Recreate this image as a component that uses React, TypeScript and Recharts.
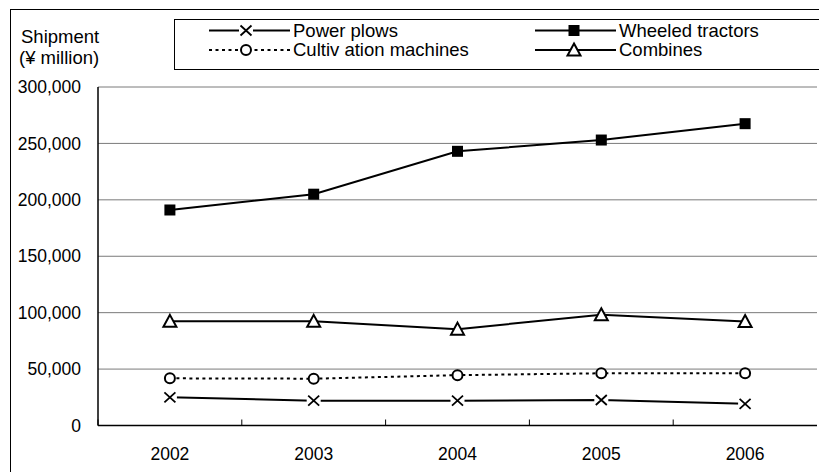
import React from 'react';
import { LineChart, Line, XAxis, YAxis, CartesianGrid, Legend } from 'recharts';

// Shipment value by machine type (¥ million)
const years = ['2002', '2003', '2004', '2005', '2006'];
const powerPlows = [25000, 22000, 22000, 22600, 19200];
const wheeledTractors = [191000, 205000, 243000, 253000, 267500];
const cultivationMachines = [41800, 41500, 44600, 46300, 46300];
const combines = [92300, 92300, 85400, 98100, 92100];
const yTicks = [0, 50000, 100000, 150000, 200000, 250000, 300000];

const FONT = '"Liberation Sans", Arial, sans-serif';
const FS = 17.5;
const LEGEND_FS = 18.5;

const fmt = (v: number) => v.toLocaleString('en-US');

// markers
const XMark = ({ cx, cy }: any) => (
  <g>
    <rect x={cx - 7} y={cy - 6} width={14} height={12} fill="#fff" />
    <path
      d={`M${cx - 5.5},${cy - 5} L${cx + 5.5},${cy + 5} M${cx + 5.5},${cy - 5} L${cx - 5.5},${cy + 5}`}
      stroke="#000"
      strokeWidth={1.8}
      fill="none"
    />
  </g>
);
const SquareMark = ({ cx, cy }: any) => <rect x={cx - 5.5} y={cy - 5.5} width={11} height={11} fill="#000" />;
const CircleMark = ({ cx, cy }: any) => <circle cx={cx} cy={cy} r={5} fill="#fff" stroke="#000" strokeWidth={2} />;
const TriangleMark = ({ cx, cy }: any) => (
  <polygon
    points={`${cx},${cy - 6.5} ${cx + 6.5},${cy + 5.5} ${cx - 6.5},${cy + 5.5}`}
    fill="#fff"
    stroke="#000"
    strokeWidth={2}
  />
);

const dotOf = (Mark: any) => (props: any) => <Mark key={`m-${props.index}`} cx={props.cx} cy={props.cy} />;

const legendItems = [
  { name: 'Power plows', x: 0, y: 0, dash: undefined, Mark: XMark, mx: 71 },
  { name: 'Cultiv ation machines', x: 0, y: 1, dash: '3 3.5', Mark: CircleMark, mx: 71 },
  { name: 'Wheeled tractors', x: 1, y: 0, dash: undefined, Mark: SquareMark, mx: 399 },
  { name: 'Combines', x: 1, y: 1, dash: undefined, Mark: TriangleMark, mx: 399 },
];

const renderLegend = () => (
  <div style={{ width: 700, height: 51, boxSizing: 'border-box', border: '1px solid #000', background: '#fff' }}>
    <svg width={698} height={49} style={{ display: 'block' }}>
      {legendItems.map((it) => {
        const x0 = it.x === 0 ? 34 : 360;
        const cy = it.y === 0 ? 10.5 : 30;
        return (
          <g key={it.name}>
            <line x1={x0} y1={cy} x2={x0 + 81} y2={cy} stroke="#000" strokeWidth={2} strokeDasharray={it.dash} />
            <it.Mark cx={it.mx} cy={cy} />
            <text x={x0 + 84} y={cy + 6.4} fontSize={LEGEND_FS} fill="#000">
              {it.name}
            </text>
          </g>
        );
      })}
    </svg>
  </div>
);

// year label plus an inside tick mark at the left edge of each category band
const YearTick = ({ x, y, payload }: any) => {
  const half = payload.offset || 0;
  return (
    <g>
      <line x1={x - half} y1={y} x2={x - half} y2={y - 6} stroke="#000" strokeWidth={1} />
      <text x={x} y={y + 34.5} textAnchor="middle" fontSize={FS} fill="#000">
        {payload.value}
      </text>
    </g>
  );
};

export default function App() {
  const data = years.map((year, i) => ({
    year,
    powerPlows: powerPlows[i],
    wheeledTractors: wheeledTractors[i],
    cultivationMachines: cultivationMachines[i],
    combines: combines[i],
  }));

  return (
    <div
      style={{
        position: 'absolute',
        left: 0,
        top: 0,
        width: 819,
        height: 472,
        overflow: 'hidden',
        background: '#fff',
        fontFamily: FONT,
      }}
    >
      <div style={{ position: 'absolute', left: 10, top: 9, width: 900, height: 600, border: '1px solid #000' }} />
      <svg style={{ position: 'absolute', left: 0, top: 0 }} width={140} height={80}>
        <text x={21} y={42.5} fontSize={LEGEND_FS} fill="#000">Shipment</text>
        <text x={19} y={63.5} fontSize={LEGEND_FS} fill="#000">(¥ million)</text>
      </svg>
      <div style={{ position: 'absolute', left: 0, top: 0 }}>
        <LineChart width={830} height={480} data={data} margin={{ top: 87, right: 13, bottom: 14.5, left: 0 }}>
          <CartesianGrid vertical={false} stroke="#7a7a7a" />
          <XAxis
            dataKey="year"
            scale="band"
            height={40}
            axisLine={{ stroke: '#000', strokeWidth: 1.5 }}
            tickLine={false}
            tickSize={0}
            tickMargin={0}
            tick={<YearTick />}
            interval={0}
          />
          <YAxis
            domain={[0, 300000]}
            ticks={yTicks}
            width={98}
            axisLine={{ stroke: '#000', strokeWidth: 1.5 }}
            tickLine={false}
            tickSize={0}
            tickMargin={17}
            tickFormatter={fmt}
            tick={{ fill: '#000', fontSize: FS }}
            interval={0}
          />
          <YAxis
            yAxisId="frame"
            orientation="right"
            domain={[0, 300000]}
            width={0}
            tick={false}
            tickLine={false}
            axisLine={{ stroke: '#7a7a7a' }}
          />
          <Legend
            layout="vertical"
            align="center"
            verticalAlign="middle"
            content={renderLegend}
            wrapperStyle={{ position: 'absolute', left: 174, top: 19, width: 700, height: 51 }}
          />
          <Line dataKey="cultivationMachines" name="Cultivation machines" stroke="#000" strokeWidth={2} strokeDasharray="3 3.5" dot={dotOf(CircleMark)} activeDot={false} isAnimationActive={false} />
          <Line dataKey="powerPlows" name="Power plows" stroke="#000" strokeWidth={2} dot={dotOf(XMark)} activeDot={false} isAnimationActive={false} />
          <Line dataKey="combines" name="Combines" stroke="#000" strokeWidth={2} dot={dotOf(TriangleMark)} activeDot={false} isAnimationActive={false} />
          <Line dataKey="wheeledTractors" name="Wheeled tractors" stroke="#000" strokeWidth={2} dot={dotOf(SquareMark)} activeDot={false} isAnimationActive={false} />
        </LineChart>
      </div>
    </div>
  );
}
